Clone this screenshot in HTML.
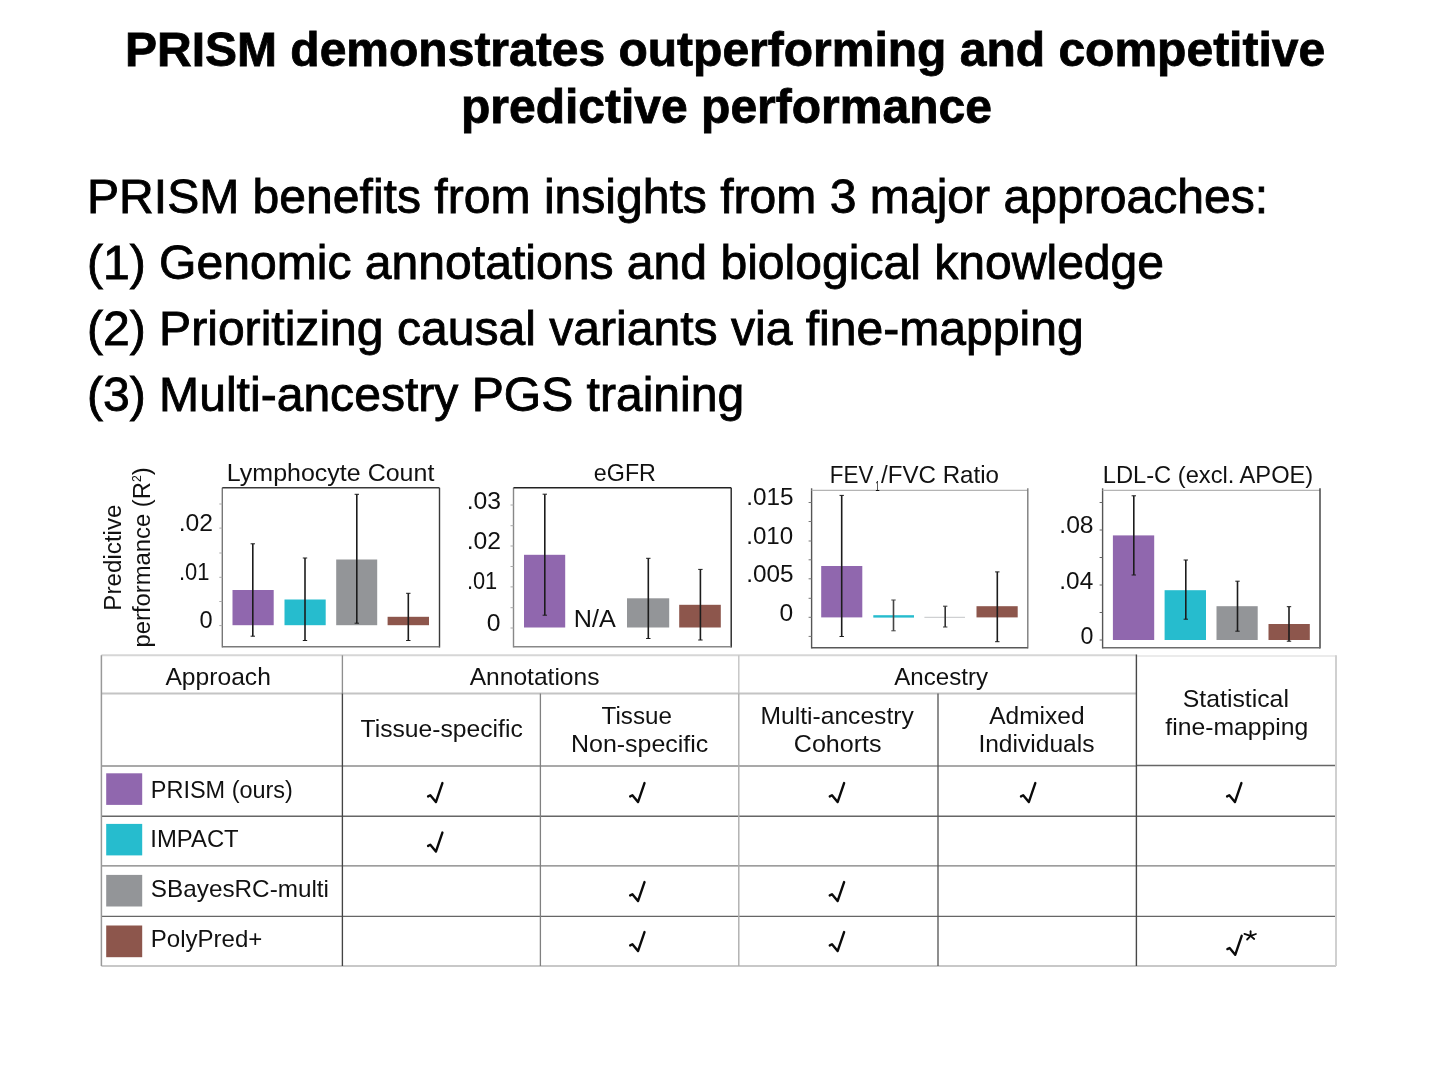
<!DOCTYPE html>
<html><head><meta charset="utf-8"><title>PRISM slide</title>
<style>
html,body{margin:0;padding:0;background:#fff;}
body{width:1440px;height:1080px;position:relative;overflow:hidden;font-family:"Liberation Sans",sans-serif;color:#000;}
.t{will-change:transform;position:absolute;white-space:nowrap;font-size:48px;line-height:48px;}
.b{font-weight:bold;-webkit-text-stroke:0.8px #000;}
.n{font-size:48.08px;-webkit-text-stroke:0.85px #000;}
svg{position:absolute;left:0;top:0;will-change:transform;filter:blur(0.35px);}
svg text{font-family:"Liberation Sans",sans-serif;fill:#111;}
</style></head><body>
<div class="t b" style="left:124.6px;top:25.67px">PRISM demonstrates outperforming and competitive</div>
<div class="t b" style="left:460.6px;top:83.07px">predictive performance</div>
<div class="t n" style="left:86.9px;top:171.77px">PRISM benefits from insights from 3 major approaches:</div>
<div class="t n" style="left:86.9px;top:237.67px">(1) Genomic annotations and biological knowledge</div>
<div class="t n" style="left:86.9px;top:303.67px">(2) Prioritizing causal variants via fine-mapping</div>
<div class="t n" style="left:86.9px;top:369.57px">(3) Multi-ancestry PGS training</div>
<svg width="1440" height="1080" viewBox="0 0 1440 1080">
<text transform="translate(120.7,610.69) rotate(-90) scale(1.0002,1)" font-size="24.2" ><tspan font-size="24.2" dy="0">Predictive</tspan></text>
<text transform="translate(150.2,647.49) rotate(-90) scale(0.9842,1)" font-size="24.2" ><tspan font-size="24.2" dy="0">performance (R</tspan><tspan font-size="12.5" dy="-9.3">2</tspan><tspan font-size="24.2" dy="9.3">)</tspan></text>
<line x1="222.3" y1="487.8" x2="222.3" y2="647.5" stroke="#777" stroke-width="1.4"/>
<line x1="222.3" y1="487.8" x2="439.5" y2="487.8" stroke="#3a3a3a" stroke-width="1.4"/>
<line x1="439.5" y1="487.8" x2="439.5" y2="647.5" stroke="#3a3a3a" stroke-width="1.4"/>
<line x1="222.3" y1="646.8" x2="439.5" y2="646.8" stroke="#7a7a7a" stroke-width="1.4"/>
<line x1="219.3" y1="504" x2="222.3" y2="504" stroke="#aaa" stroke-width="1"/>
<line x1="219.3" y1="528.1" x2="222.3" y2="528.1" stroke="#aaa" stroke-width="1"/>
<line x1="219.3" y1="553" x2="222.3" y2="553" stroke="#aaa" stroke-width="1"/>
<line x1="219.3" y1="577.3" x2="222.3" y2="577.3" stroke="#aaa" stroke-width="1"/>
<line x1="219.3" y1="601.5" x2="222.3" y2="601.5" stroke="#aaa" stroke-width="1"/>
<line x1="219.3" y1="625.6" x2="222.3" y2="625.6" stroke="#aaa" stroke-width="1"/>
<text transform="translate(226.85,480.8) scale(1.0419,1)" font-size="24.0" >Lymphocyte Count</text>
<text transform="translate(178.67,531.3) scale(1.0290,1)" font-size="24.0" >.02</text>
<text transform="translate(178.89,580) scale(0.9143,1)" font-size="24.0" >.01</text>
<text transform="translate(199.46,628.3) scale(0.9833,1)" font-size="24.0" >0</text>
<rect x="232.5" y="590" width="41.20" height="35.20" fill="#9067AE"/>
<rect x="284.5" y="599.5" width="41.20" height="25.70" fill="#26BCCE"/>
<rect x="336.2" y="559.5" width="41.00" height="65.70" fill="#939598"/>
<rect x="387.6" y="616.8" width="41.40" height="8.40" fill="#8D564C"/>
<line x1="252.8" y1="543.8" x2="252.8" y2="636.2" stroke="#1c1c1c" stroke-width="1.6"/>
<line x1="250.60000000000002" y1="543.8" x2="255.0" y2="543.8" stroke="#1c1c1c" stroke-width="1"/>
<line x1="250.60000000000002" y1="636.2" x2="255.0" y2="636.2" stroke="#1c1c1c" stroke-width="1"/>
<line x1="305" y1="558" x2="305" y2="640.5" stroke="#1c1c1c" stroke-width="1.6"/>
<line x1="302.8" y1="558" x2="307.2" y2="558" stroke="#1c1c1c" stroke-width="1"/>
<line x1="302.8" y1="640.5" x2="307.2" y2="640.5" stroke="#1c1c1c" stroke-width="1"/>
<line x1="356.8" y1="494.3" x2="356.8" y2="623.2" stroke="#1c1c1c" stroke-width="1.6"/>
<line x1="354.6" y1="494.3" x2="359.0" y2="494.3" stroke="#1c1c1c" stroke-width="1"/>
<line x1="354.6" y1="623.2" x2="359.0" y2="623.2" stroke="#1c1c1c" stroke-width="1"/>
<line x1="408.3" y1="593.3" x2="408.3" y2="640.5" stroke="#1c1c1c" stroke-width="1.6"/>
<line x1="406.1" y1="593.3" x2="410.5" y2="593.3" stroke="#1c1c1c" stroke-width="1"/>
<line x1="406.1" y1="640.5" x2="410.5" y2="640.5" stroke="#1c1c1c" stroke-width="1"/>
<line x1="513.5" y1="487.8" x2="513.5" y2="647.5" stroke="#888" stroke-width="1.4"/>
<line x1="513.5" y1="487.8" x2="731.2" y2="487.8" stroke="#222" stroke-width="1.4"/>
<line x1="731.2" y1="487.8" x2="731.2" y2="647.5" stroke="#222" stroke-width="1.4"/>
<line x1="513.5" y1="646.8" x2="731.2" y2="646.8" stroke="#888" stroke-width="1.4"/>
<line x1="510.5" y1="505" x2="513.5" y2="505" stroke="#aaa" stroke-width="1"/>
<line x1="510.5" y1="525.7" x2="513.5" y2="525.7" stroke="#aaa" stroke-width="1"/>
<line x1="510.5" y1="546" x2="513.5" y2="546" stroke="#aaa" stroke-width="1"/>
<line x1="510.5" y1="566.5" x2="513.5" y2="566.5" stroke="#aaa" stroke-width="1"/>
<line x1="510.5" y1="586.9" x2="513.5" y2="586.9" stroke="#aaa" stroke-width="1"/>
<line x1="510.5" y1="607.7" x2="513.5" y2="607.7" stroke="#aaa" stroke-width="1"/>
<line x1="510.5" y1="628" x2="513.5" y2="628" stroke="#aaa" stroke-width="1"/>
<text transform="translate(593.87,480.8) scale(0.9692,1)" font-size="24.0" >eGFR</text>
<text transform="translate(466.67,508.7) scale(1.0290,1)" font-size="24.0" >.03</text>
<text transform="translate(466.67,548.8) scale(1.0290,1)" font-size="24.0" >.02</text>
<text transform="translate(466.89,589.4) scale(0.9110,1)" font-size="24.0" >.01</text>
<text transform="translate(486.87,630.8) scale(1.0300,1)" font-size="24.0" >0</text>
<rect x="524" y="554.8" width="41.20" height="72.70" fill="#9067AE"/>
<text transform="translate(573.83,627.2) scale(1.0510,1)" font-size="24.0" >N/A</text>
<rect x="627" y="598.3" width="42.20" height="29.20" fill="#939598"/>
<rect x="679.2" y="604.8" width="41.60" height="22.70" fill="#8D564C"/>
<line x1="544.8" y1="494.2" x2="544.8" y2="615.2" stroke="#1c1c1c" stroke-width="1.6"/>
<line x1="542.5999999999999" y1="494.2" x2="547.0" y2="494.2" stroke="#1c1c1c" stroke-width="1"/>
<line x1="542.5999999999999" y1="615.2" x2="547.0" y2="615.2" stroke="#1c1c1c" stroke-width="1"/>
<line x1="648.3" y1="558.3" x2="648.3" y2="638.5" stroke="#1c1c1c" stroke-width="1.6"/>
<line x1="646.0999999999999" y1="558.3" x2="650.5" y2="558.3" stroke="#1c1c1c" stroke-width="1"/>
<line x1="646.0999999999999" y1="638.5" x2="650.5" y2="638.5" stroke="#1c1c1c" stroke-width="1"/>
<line x1="700.4" y1="569.4" x2="700.4" y2="640" stroke="#1c1c1c" stroke-width="1.6"/>
<line x1="698.1999999999999" y1="569.4" x2="702.6" y2="569.4" stroke="#1c1c1c" stroke-width="1"/>
<line x1="698.1999999999999" y1="640" x2="702.6" y2="640" stroke="#1c1c1c" stroke-width="1"/>
<line x1="811.6" y1="488.29999999999995" x2="811.6" y2="648.5" stroke="#555" stroke-width="1.4"/>
<line x1="811.6" y1="490.4" x2="1027.8" y2="490.4" stroke="#b4b4b4" stroke-width="1.4"/>
<line x1="1027.8" y1="488.29999999999995" x2="1027.8" y2="648.5" stroke="#7c7c7c" stroke-width="1.4"/>
<line x1="811.6" y1="647.8" x2="1027.8" y2="647.8" stroke="#585858" stroke-width="1.4"/>
<line x1="808.6" y1="502.5" x2="811.6" y2="502.5" stroke="#777" stroke-width="1"/>
<line x1="808.6" y1="521.5" x2="811.6" y2="521.5" stroke="#777" stroke-width="1"/>
<line x1="808.6" y1="541" x2="811.6" y2="541" stroke="#777" stroke-width="1"/>
<line x1="808.6" y1="559.8" x2="811.6" y2="559.8" stroke="#777" stroke-width="1"/>
<line x1="808.6" y1="578.8" x2="811.6" y2="578.8" stroke="#777" stroke-width="1"/>
<line x1="808.6" y1="598.3" x2="811.6" y2="598.3" stroke="#777" stroke-width="1"/>
<line x1="808.6" y1="617.3" x2="811.6" y2="617.3" stroke="#777" stroke-width="1"/>
<line x1="808.6" y1="636.4" x2="811.6" y2="636.4" stroke="#777" stroke-width="1"/>
<text transform="translate(829.85,483) scale(0.9328,1)" font-size="24.0" >FEV</text>
<text transform="translate(875.20,490.6) scale(0.5675,1)" font-size="14" >1</text>
<text transform="translate(881.00,483) scale(1.0061,1)" font-size="24.0" >/FVC Ratio</text>
<text transform="translate(746.20,505) scale(1.0145,1)" font-size="24.0" >.015</text>
<text transform="translate(746.21,543.5) scale(1.0059,1)" font-size="24.0" >.010</text>
<text transform="translate(746.20,582) scale(1.0145,1)" font-size="24.0" >.005</text>
<text transform="translate(779.53,620.5) scale(1.0250,1)" font-size="24.0" >0</text>
<rect x="821.2" y="566" width="41.10" height="51.40" fill="#9067AE"/>
<rect x="873.3" y="615.2" width="40.70" height="2.40" fill="#26BCCE"/>
<rect x="924.4" y="616.8" width="40.60" height="1.00" fill="#c4c5c7"/>
<rect x="976.5" y="606.2" width="41.20" height="11.20" fill="#8D564C"/>
<line x1="841.7" y1="495.4" x2="841.7" y2="636.5" stroke="#1c1c1c" stroke-width="1.6"/>
<line x1="839.5" y1="495.4" x2="843.9000000000001" y2="495.4" stroke="#1c1c1c" stroke-width="1"/>
<line x1="839.5" y1="636.5" x2="843.9000000000001" y2="636.5" stroke="#1c1c1c" stroke-width="1"/>
<line x1="893.5" y1="600" x2="893.5" y2="630.8" stroke="#444" stroke-width="1.6"/>
<line x1="891.3" y1="600" x2="895.7" y2="600" stroke="#444" stroke-width="1"/>
<line x1="891.3" y1="630.8" x2="895.7" y2="630.8" stroke="#444" stroke-width="1"/>
<line x1="945.2" y1="606.2" x2="945.2" y2="627" stroke="#333" stroke-width="1.6"/>
<line x1="943.0" y1="606.2" x2="947.4000000000001" y2="606.2" stroke="#333" stroke-width="1"/>
<line x1="943.0" y1="627" x2="947.4000000000001" y2="627" stroke="#333" stroke-width="1"/>
<line x1="997.3" y1="571.9" x2="997.3" y2="641.7" stroke="#1c1c1c" stroke-width="1.6"/>
<line x1="995.0999999999999" y1="571.9" x2="999.5" y2="571.9" stroke="#1c1c1c" stroke-width="1"/>
<line x1="995.0999999999999" y1="641.7" x2="999.5" y2="641.7" stroke="#1c1c1c" stroke-width="1"/>
<line x1="1102.6" y1="488.29999999999995" x2="1102.6" y2="648.5" stroke="#555" stroke-width="1.4"/>
<line x1="1102.6" y1="490.4" x2="1320" y2="490.4" stroke="#b4b4b4" stroke-width="1.4"/>
<line x1="1320" y1="488.29999999999995" x2="1320" y2="648.5" stroke="#3a3a3a" stroke-width="1.4"/>
<line x1="1102.6" y1="647.8" x2="1320" y2="647.8" stroke="#6c6c6c" stroke-width="1.4"/>
<line x1="1099.6" y1="502.5" x2="1102.6" y2="502.5" stroke="#666" stroke-width="1"/>
<line x1="1099.6" y1="530" x2="1102.6" y2="530" stroke="#666" stroke-width="1"/>
<line x1="1099.6" y1="557.5" x2="1102.6" y2="557.5" stroke="#666" stroke-width="1"/>
<line x1="1099.6" y1="585" x2="1102.6" y2="585" stroke="#666" stroke-width="1"/>
<line x1="1099.6" y1="612.5" x2="1102.6" y2="612.5" stroke="#666" stroke-width="1"/>
<line x1="1099.6" y1="640" x2="1102.6" y2="640" stroke="#666" stroke-width="1"/>
<text transform="translate(1102.75,483) scale(0.9873,1)" font-size="24.0" >LDL-C (excl. APOE)</text>
<text transform="translate(1059.27,533.4) scale(1.0290,1)" font-size="24.0" >.08</text>
<text transform="translate(1059.29,588.7) scale(1.0165,1)" font-size="24.0" >.04</text>
<text transform="translate(1080.48,643.5) scale(0.9667,1)" font-size="24.0" >0</text>
<rect x="1112.9" y="535.4" width="41.30" height="104.60" fill="#9067AE"/>
<rect x="1164.6" y="590.2" width="41.40" height="49.80" fill="#26BCCE"/>
<rect x="1216.5" y="606.2" width="41.20" height="33.80" fill="#939598"/>
<rect x="1268.5" y="624" width="41.30" height="16.00" fill="#8D564C"/>
<line x1="1133.8" y1="495.8" x2="1133.8" y2="575" stroke="#1c1c1c" stroke-width="1.6"/>
<line x1="1131.6" y1="495.8" x2="1136.0" y2="495.8" stroke="#1c1c1c" stroke-width="1"/>
<line x1="1131.6" y1="575" x2="1136.0" y2="575" stroke="#1c1c1c" stroke-width="1"/>
<line x1="1185.8" y1="560" x2="1185.8" y2="619.2" stroke="#1c1c1c" stroke-width="1.6"/>
<line x1="1183.6" y1="560" x2="1188.0" y2="560" stroke="#1c1c1c" stroke-width="1"/>
<line x1="1183.6" y1="619.2" x2="1188.0" y2="619.2" stroke="#1c1c1c" stroke-width="1"/>
<line x1="1237.5" y1="581.2" x2="1237.5" y2="631.2" stroke="#1c1c1c" stroke-width="1.6"/>
<line x1="1235.3" y1="581.2" x2="1239.7" y2="581.2" stroke="#1c1c1c" stroke-width="1"/>
<line x1="1235.3" y1="631.2" x2="1239.7" y2="631.2" stroke="#1c1c1c" stroke-width="1"/>
<line x1="1289" y1="606.7" x2="1289" y2="641.2" stroke="#1c1c1c" stroke-width="1.6"/>
<line x1="1286.8" y1="606.7" x2="1291.2" y2="606.7" stroke="#1c1c1c" stroke-width="1"/>
<line x1="1286.8" y1="641.2" x2="1291.2" y2="641.2" stroke="#1c1c1c" stroke-width="1"/>
<line x1="101.4" y1="655.3" x2="1136.4" y2="655.3" stroke="#d6d6d6" stroke-width="2"/>
<line x1="1136.4" y1="656.0999999999999" x2="1336" y2="656.0999999999999" stroke="#ebebeb" stroke-width="2"/>
<line x1="101.4" y1="693.6" x2="1136.4" y2="693.6" stroke="#c4c4c4" stroke-width="2"/>
<line x1="101.4" y1="766" x2="1136.4" y2="766" stroke="#8c8c8c" stroke-width="1.5"/>
<line x1="1136.4" y1="765.6" x2="1336" y2="765.6" stroke="#666" stroke-width="1.5"/>
<line x1="101.4" y1="816.2" x2="1336" y2="816.2" stroke="#666" stroke-width="1.35"/>
<line x1="101.4" y1="865.8" x2="1336" y2="865.8" stroke="#7c7c7c" stroke-width="1.35"/>
<line x1="101.4" y1="916.4" x2="1336" y2="916.4" stroke="#666" stroke-width="1.35"/>
<line x1="101.4" y1="966" x2="1336" y2="966" stroke="#c8c8c8" stroke-width="1.8"/>
<line x1="101.4" y1="655.3" x2="101.4" y2="966" stroke="#999" stroke-width="1.5"/>
<line x1="342.4" y1="655.3" x2="342.4" y2="693.6" stroke="#8e8e8e" stroke-width="1.35"/>
<line x1="342.4" y1="693.6" x2="342.4" y2="966" stroke="#444" stroke-width="1.35"/>
<line x1="540.4" y1="693.6" x2="540.4" y2="966" stroke="#808080" stroke-width="1.3"/>
<line x1="738.8" y1="655.3" x2="738.8" y2="693.6" stroke="#c4c4c4" stroke-width="1.4"/>
<line x1="738.8" y1="693.6" x2="738.8" y2="966" stroke="#adadad" stroke-width="1.4"/>
<line x1="938" y1="693.6" x2="938" y2="966" stroke="#585858" stroke-width="1.35"/>
<line x1="1136.4" y1="654.5" x2="1136.4" y2="966" stroke="#484848" stroke-width="1.4"/>
<line x1="1336" y1="655.3" x2="1336" y2="966" stroke="#d0d0d0" stroke-width="2"/>
<text transform="translate(165.40,685) scale(1.0267,1)" font-size="24.0" >Approach</text>
<text transform="translate(469.70,685) scale(1.0245,1)" font-size="24.0" >Annotations</text>
<text transform="translate(894.20,685) scale(1.0047,1)" font-size="24.0" >Ancestry</text>
<text transform="translate(360.51,737) scale(1.0289,1)" font-size="24.0" >Tissue-specific</text>
<text transform="translate(601.62,723.8) scale(1.0080,1)" font-size="24.0" >Tissue</text>
<text transform="translate(571.05,752.4) scale(1.0401,1)" font-size="24.0" >Non-specific</text>
<text transform="translate(760.58,723.8) scale(1.0258,1)" font-size="24.0" >Multi-ancestry</text>
<text transform="translate(793.83,752.4) scale(1.0443,1)" font-size="24.0" >Cohorts</text>
<text transform="translate(989.20,723.8) scale(1.0214,1)" font-size="24.0" >Admixed</text>
<text transform="translate(978.38,752.4) scale(1.0246,1)" font-size="24.0" >Individuals</text>
<text transform="translate(1182.83,707.1) scale(1.0332,1)" font-size="24.0" >Statistical</text>
<text transform="translate(1165.30,735.3) scale(1.0298,1)" font-size="24.0" >fine-mapping</text>
<rect x="106.2" y="773.3" width="36.00" height="31.60" fill="#9067AE"/>
<text transform="translate(150.87,797.5) scale(0.9780,1)" font-size="24.0" >PRISM (ours)</text>
<rect x="106.2" y="823.9" width="36.00" height="31.50" fill="#26BCCE"/>
<text transform="translate(150.34,847) scale(0.9942,1)" font-size="24.0" >IMPACT</text>
<rect x="106.2" y="874.9" width="36.00" height="31.60" fill="#939598"/>
<text transform="translate(150.84,897) scale(1.0126,1)" font-size="24.0" >SBayesRC-multi</text>
<rect x="106.2" y="925.5" width="36.00" height="31.70" fill="#8D564C"/>
<text transform="translate(150.72,947.2) scale(1.0025,1)" font-size="24.0" >PolyPred+</text>
<path d="M428.1 796.4 L430.3 795.3 L435.9 802.1 L442.4 783.1" fill="none" stroke="#0a0a0a" stroke-width="2.4" stroke-linejoin="round" stroke-linecap="round"/>
<path d="M630.2 796.4 L632.4 795.3 L638.0 802.1 L644.5 783.1" fill="none" stroke="#0a0a0a" stroke-width="2.4" stroke-linejoin="round" stroke-linecap="round"/>
<path d="M829.8 796.4 L832.0 795.3 L837.6 802.1 L844.1 783.1" fill="none" stroke="#0a0a0a" stroke-width="2.4" stroke-linejoin="round" stroke-linecap="round"/>
<path d="M1021.0 796.4 L1023.2 795.3 L1028.8 802.1 L1035.3 783.1" fill="none" stroke="#0a0a0a" stroke-width="2.4" stroke-linejoin="round" stroke-linecap="round"/>
<path d="M1227.1 796.4 L1229.3 795.3 L1234.9 802.1 L1241.4 783.1" fill="none" stroke="#0a0a0a" stroke-width="2.4" stroke-linejoin="round" stroke-linecap="round"/>
<path d="M428.1 845.9 L430.3 844.8 L435.9 851.6 L442.4 832.6" fill="none" stroke="#0a0a0a" stroke-width="2.4" stroke-linejoin="round" stroke-linecap="round"/>
<path d="M630.2 895.4 L632.4 894.3 L638.0 901.1 L644.5 882.1" fill="none" stroke="#0a0a0a" stroke-width="2.4" stroke-linejoin="round" stroke-linecap="round"/>
<path d="M829.8 895.4 L832.0 894.3 L837.6 901.1 L844.1 882.1" fill="none" stroke="#0a0a0a" stroke-width="2.4" stroke-linejoin="round" stroke-linecap="round"/>
<path d="M630.2 945.4 L632.4 944.3 L638.0 951.1 L644.5 932.1" fill="none" stroke="#0a0a0a" stroke-width="2.4" stroke-linejoin="round" stroke-linecap="round"/>
<path d="M829.8 945.4 L832.0 944.3 L837.6 951.1 L844.1 932.1" fill="none" stroke="#0a0a0a" stroke-width="2.4" stroke-linejoin="round" stroke-linecap="round"/>
<path d="M1227.4 949.1 L1229.6 948.0 L1235.2 954.8 L1241.7 935.8" fill="none" stroke="#0a0a0a" stroke-width="2.4" stroke-linejoin="round" stroke-linecap="round"/>
<line x1="1250.6" y1="935.9" x2="1250.6" y2="931.2" stroke="#0a0a0a" stroke-width="1.8" stroke-linecap="round"/>
<line x1="1250.6" y1="935.9" x2="1244.4" y2="933.9" stroke="#0a0a0a" stroke-width="1.8" stroke-linecap="round"/>
<line x1="1250.6" y1="935.9" x2="1255.9" y2="934.0" stroke="#0a0a0a" stroke-width="1.8" stroke-linecap="round"/>
<line x1="1250.6" y1="935.9" x2="1247.1" y2="939.5" stroke="#0a0a0a" stroke-width="1.8" stroke-linecap="round"/>
<line x1="1250.6" y1="935.9" x2="1254.2" y2="939.0" stroke="#0a0a0a" stroke-width="1.8" stroke-linecap="round"/>
</svg>
</body></html>
